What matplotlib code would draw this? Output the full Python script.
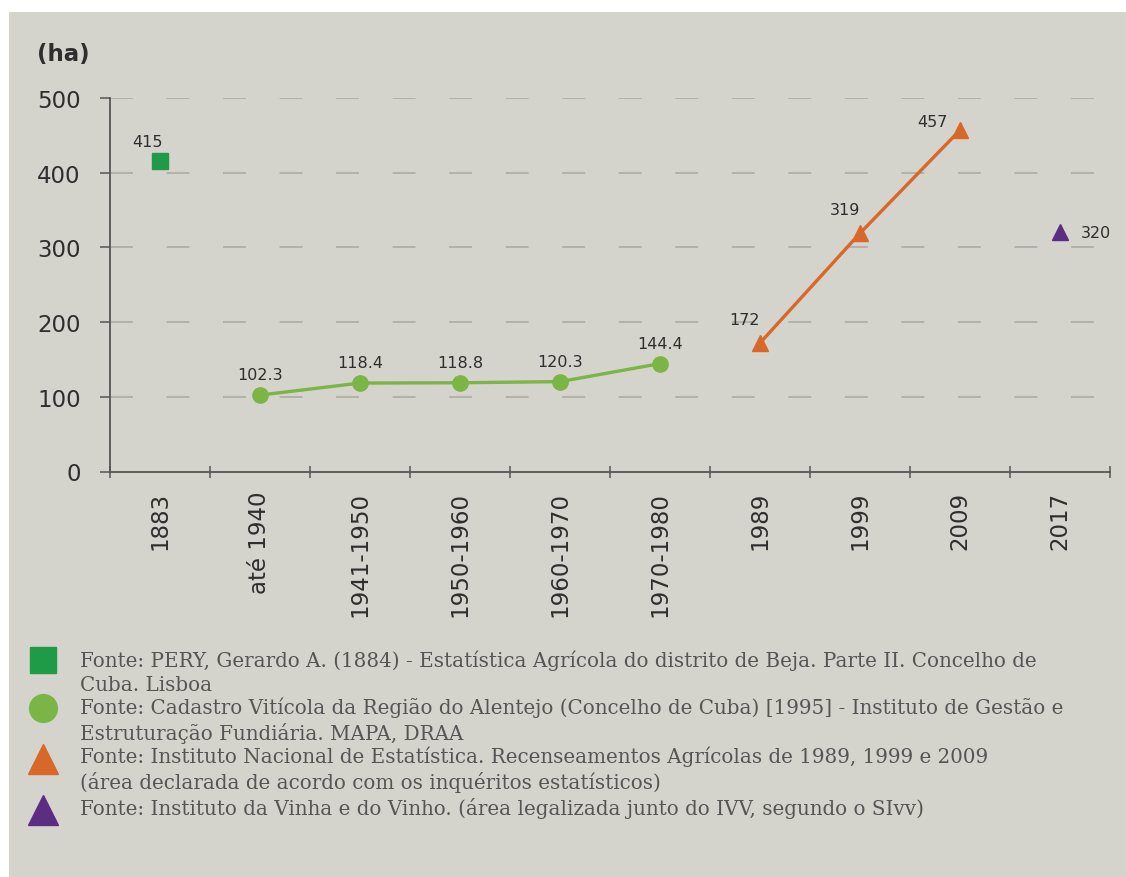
import matplotlib
matplotlib.use("Agg")
import matplotlib.pyplot as plt
from matplotlib.patches import Rectangle

# categories on the x axis and the four data sources
categories = ["1883", "até 1940", "1941-1950", "1950-1960", "1960-1970",
              "1970-1980", "1989", "1999", "2009", "2017"]

pery_cats = ["1883"]
pery_vals = [415]

cadastro_cats = ["até 1940", "1941-1950", "1950-1960", "1960-1970", "1970-1980"]
cadastro_vals = [102.3, 118.4, 118.8, 120.3, 144.4]

ine_cats = ["1989", "1999", "2009"]
ine_vals = [172, 319, 457]

ivv_cats = ["2017"]
ivv_vals = [320]

yticks = [0, 100, 200, 300, 400, 500]

legend_texts = [
    "Fonte: PERY, Gerardo A. (1884) - Estatística Agrícola do distrito de Beja. Parte II. Concelho de\nCuba. Lisboa",
    "Fonte: Cadastro Vitícola da Região do Alentejo (Concelho de Cuba) [1995] - Instituto de Gestão e\nEstruturação Fundiária. MAPA, DRAA",
    "Fonte: Instituto Nacional de Estatística. Recenseamentos Agrícolas de 1989, 1999 e 2009\n(área declarada de acordo com os inquéritos estatísticos)",
    "Fonte: Instituto da Vinha e do Vinho. (área legalizada junto do IVV, segundo o SIvv)",
]

BG = "#d4d4cc"
TXT = "#2e2e2e"
C_PERY = "#1f9a47"
C_CAD = "#7bb545"
C_INE = "#d8682a"
C_IVV = "#5b2d83"

W, H = 1126, 878
fig = plt.figure(figsize=(W / 100, H / 100), dpi=100, facecolor="white")
fig.patches.append(Rectangle((9 / W, -0.05), 1.1, 1.05 - 13 / H, transform=fig.transFigure,
                             facecolor=BG, edgecolor="none", zorder=-10))

ax = fig.add_axes([110 / W, 1 - 472.5 / H, 1000 / W, 373.5 / H])
ax.set_facecolor("none")

pos = {c: i for i, c in enumerate(categories)}


def xs(cats):
    return [pos[c] for c in cats]


# dashed guide lines
for v in yticks[1:]:
    ax.axhline(v, color="#a8a8a2", lw=1.1, linestyle=(0, (15, 22)), zorder=0)

ax.plot(xs(pery_cats), pery_vals, "s", color=C_PERY, ms=11, zorder=3)
ax.plot(xs(cadastro_cats), cadastro_vals, "-o", color=C_CAD, ms=11, lw=2.4, zorder=3)
ax.plot(xs(ine_cats), ine_vals, "-^", color=C_INE, ms=12, lw=2.4, zorder=3)
ax.plot(xs(ivv_cats), ivv_vals, "^", color=C_IVV, ms=11, zorder=3)

lab = dict(fontsize=11.5, color=TXT, ha="center", va="center", textcoords="offset points")
for c, v in zip(pery_cats, pery_vals):
    ax.annotate(f"{v}", (pos[c], v), xytext=(-9, 14.5), **lab)
for c, v in zip(cadastro_cats, cadastro_vals):
    ax.annotate(f"{v}", (pos[c], v), xytext=(0, 14.5), **lab)
for c, v in zip(ine_cats[:2], ine_vals[:2]):
    ax.annotate(f"{v}", (pos[c], v), xytext=(-11, 17), **lab)
ax.annotate(f"{ine_vals[2]}", (pos[ine_cats[2]], ine_vals[2]), xytext=(-20, 6.5), **lab)
for c, v in zip(ivv_cats, ivv_vals):
    ax.annotate(f"{v}", (pos[c], v), xytext=(26, 0), **lab)

ax.set_xlim(-0.5, len(categories) - 0.5)
ax.set_ylim(0, 500)
ax.set_yticks(yticks)
ax.set_yticklabels([str(v) for v in yticks], fontsize=16.5, color=TXT)
ax.set_xticks(range(len(categories)))
ax.set_xticklabels(categories, rotation=90, fontsize=16.5, color=TXT, va="top")
# x tick marks sit on the category boundaries
ax.set_xticks([i - 0.5 for i in range(len(categories) + 1)], minor=True)
ax.tick_params(axis="x", which="major", length=0, pad=14)
ax.tick_params(axis="x", which="minor", direction="inout", length=8, width=1.1, color="#555555")
ax.tick_params(axis="y", direction="out", length=7, width=1.1, color="#555555", pad=14)

for s in ["top", "right"]:
    ax.spines[s].set_visible(False)
for s in ["left", "bottom"]:
    ax.spines[s].set_color("#555555")
    ax.spines[s].set_linewidth(1.3)

fig.text(37 / W, 1 - 54 / H, "(ha)", fontsize=16.5, fontweight="bold", color=TXT,
         ha="left", va="center")

# source notes underneath
lax = fig.add_axes([0, 0, 1, 1], zorder=-5)
lax.set_xlim(0, W)
lax.set_ylim(H, 0)
lax.axis("off")
markers = [("s", C_PERY, 19), ("o", C_CAD, 20), ("^", C_INE, 21), ("^", C_IVV, 21)]
marker_y = [661, 709, 760, 811]
text_y = [661, 708, 757, 808]
for (m, col, ms), my, ty, t in zip(markers, marker_y, text_y, legend_texts):
    lax.plot([43], [my], m, color=col, ms=ms)
    lax.text(80, ty - 10, t, fontsize=14.3, family="DejaVu Serif", color="#555555",
             ha="left", va="top", linespacing=1.27)

fig.savefig("out.png", dpi=100, facecolor="white")
